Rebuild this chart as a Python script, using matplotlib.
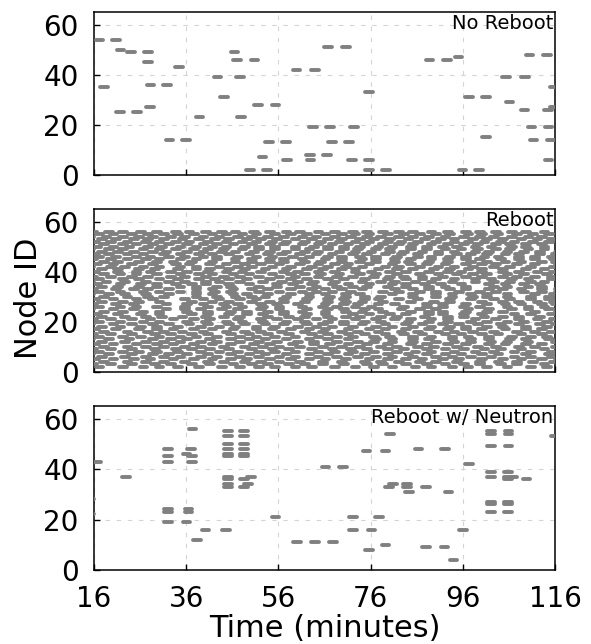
import numpy as np
import matplotlib
matplotlib.use("Agg")
import matplotlib.pyplot as plt

# ---------------- data ----------------
x_ticks = [16, 36, 56, 76, 96, 116]
y_ticks = [0, 20, 40, 60]
titles = ["No Reboot", "Reboot", "Reboot w/ Neutron"]
seg_len = 1.66  # minutes (data length of each segment, caps add the rest)

# Panel 1: No Reboot  (node, centre time in minutes)
noreboot_nodes = [54, 54, 50, 49, 49, 49, 45, 43, 35, 35, 36, 36, 25, 25, 27, 27,
                  14, 14, 14, 14, 39, 39, 39, 39, 31, 31, 31, 23, 23, 46, 46, 46, 46,
                  2, 2, 2, 2, 2, 2, 51, 51, 42, 42, 33, 28, 28, 19, 19, 19, 19, 19,
                  13, 13, 13, 13, 7, 6, 6, 6, 6, 6, 8, 8, 47, 48, 48, 29, 26, 26, 15]
noreboot_times = [17.2, 20.8, 21.75, 24.0, 27.7, 46.5, 27.7, 34.45, 18.2, 115.7, 28.25, 31.9,
                  21.7, 25.3, 28.2, 115.8, 32.35, 36.0, 111.3, 115.0, 42.8, 47.6, 105.4, 109.5,
                  44.15, 97.3, 101.05, 38.9, 47.95, 47.05, 50.8, 88.8, 92.6,
                  49.8, 53.55, 75.65, 79.3, 95.9, 99.55, 66.8, 70.7, 59.95, 64.0, 75.65,
                  51.6, 55.35, 63.5, 67.25, 72.45, 110.9, 114.6,
                  53.95, 57.7, 67.6, 71.35, 52.55, 57.85, 63.0, 72.0, 75.65, 114.6,
                  62.85, 66.6, 95.1, 110.5, 114.25, 106.1, 109.4, 114.5, 101.0]

# Panel 2: Reboot -- one string per node (56 down to 2).
# first char: offset of first segment from minute 14 (half-minutes, base 36)
# following chars: gap to next segment start (half-minutes, base 36)
reboot_nodes = list(range(56, 1, -1))
reboot_rows = [
    "1768786776877687867768786776876",
    "4687767867687787668777686787768",
    "0777686878677868776867787687687",
    "5686787768678776867877686787687",
    "2778676887676878768678867768776",
    "6867787678868767787687768677868",
    "3778687768679867786877687968776",
    "0869778678779687686978778687977",
    "5778697868778697786877968778697",
    "2687978679868779687798678697787",
    "4796878698797868799687869778698",
    "1878697987868a79687978698787697",
    "6698789a786979878698a787969878",
    "3789a69787898769a87897698a7879",
    "0968797a86989787a69878979a8697",
    "5797a8687999786a8797869a879787",
    "2a86979878a6979787a86997879a87",
    "6779a8697a8678979a887697a87978",
    "1897a6987897a8797689a796879878",
    "4a7989768a97979a87689797a86979",
    "0789a7969a8779c86979a879698797",
    "3a97876a9c78979a6879c787a98797",
    "5798a796c8a797698a79c696879a87",
    "1a869c7987a9679e8797a689797878",
    "49a79787c9a678e797a97c87967987",
    "0879ac7969a8796e9a7879c8796987",
    "6a97e98769a9787ea7969a87987979",
    "28a7e8797ca979698e9a7987a96987",
    "5979e97a869a879ca7e9787a968797",
    "1a8e9796a79c8697e7a9879697a987",
    "4979ca8797a9687ea797c979a86979",
    "0a9e8797a8c9796a87e9a7986a9798",
    "6897c9a7978a979c86a97ea7897987",
    "39a8e79879a8c797a698e797a97987",
    "5a979a87c97a8697ca79879a979a87",
    "1898a97ca7987a98797c9a87a97987",
    "49a7c8979a8a797c98a797a97c8797",
    "0a897989798a798a97978a8979a987",
    "58979a8798a879a7988797a9879878",
    "29a87989a7887a979a887a97989797",
    "6a9789a879a8879a79789a87a97987",
    "189a797a889a797988a797a9879878",
    "4a88979a789a8797a8979a8797c978",
    "089a87a9879a89c797a8897a979787",
    "5a98797a8897a9789a87979ca97987",
    "28a97988a7a97889a798a7979a9787",
    "6a8897a9879a889797a98a797a9787",
    "189a9788a97a98797a88979a97c987",
    "4a789a88979a789a87a98979a79787",
    "08a9789a879a897a988797ca979787",
    "5a98797a897a89879a789a79797c87",
    "2897a9887a9879a88797a989797987",
    "6a889a79789a8a78979a88797a9797",
    "189a798a879789a7a988797ca97987",
    "4a9789a88797a988a79789a7979787",
]

# Panel 3: Reboot w/ Neutron  (node, centre time in minutes)
neutron_nodes = [43, 28, 22, 37, 56,
                 48, 45, 43, 48, 46, 45, 43,
                 55, 53, 50, 48, 46, 45, 37, 36, 34, 33,
                 55, 53, 50, 48, 46, 45, 36, 33, 37, 34,
                 24, 23, 24, 23, 19, 19, 16, 16, 12,
                 21, 11, 11, 11, 41, 41, 21, 21, 16, 16, 8, 10, 47, 47, 54,
                 34, 33, 34, 33, 31, 33, 31, 48, 48, 42,
                 55, 54, 55, 54, 53, 49, 49,
                 39, 37, 39, 37, 36, 37, 36,
                 27, 26, 27, 26, 23, 23,
                 16, 9, 9, 4]
neutron_times = [16.65, 15.15, 15.15, 23.0, 37.4,
                 32.1, 32.0, 32.0, 37.1, 36.1, 37.3, 37.3,
                 45.0, 45.0, 45.0, 45.0, 45.0, 45.0, 45.0, 45.0, 45.0, 45.0,
                 48.6, 48.6, 48.6, 48.6, 48.6, 48.6, 48.6, 48.6, 50.0, 49.4,
                 32.1, 32.1, 36.5, 36.5, 32.0, 36.1, 40.2, 44.6, 38.4,
                 55.4, 60.0, 64.0, 67.9, 66.2, 70.0, 72.2, 77.8, 72.2, 76.2, 75.7, 79.2,
                 75.1, 79.2, 80.2,
                 80.8, 80.0, 83.9, 83.9, 84.3, 88.0, 92.9, 86.4, 92.1, 97.4,
                 102.1, 102.1, 105.9, 105.9, 116.0, 102.1, 105.9,
                 102.1, 102.1, 105.8, 105.8, 105.8, 107.0, 109.8,
                 102.1, 102.1, 105.8, 105.8, 102.1, 105.8,
                 96.0, 88.0, 92.0, 94.0]

# decode panel 2 rows
reboot_seg_nodes = []
reboot_seg_times = []
for node, row in zip(reboot_nodes, reboot_rows):
    t = 14.0 + int(row[0], 36) * 0.5
    reboot_seg_nodes.append(node)
    reboot_seg_times.append(t + seg_len / 2 + 0.4)
    for c in row[1:]:
        t += int(c, 36) * 0.5
        if t > 117.5:
            break
        reboot_seg_nodes.append(node)
        reboot_seg_times.append(t + seg_len / 2 + 0.4)

panels = [
    (noreboot_nodes, noreboot_times),
    (reboot_seg_nodes, reboot_seg_times),
    (neutron_nodes, neutron_times),
]

# ---------------- figure ----------------
plt.rcParams['font.family'] = ['DejaVu Sans']
W, H = 591, 644
fig = plt.figure(figsize=(W / 100, H / 100), dpi=100)

left = 94 / W
width = (555 - 94) / W
tops = [12, 209, 406]
bottoms = [175, 372, 570]

axes = []
for i, (nodes, times) in enumerate(panels):
    ax = fig.add_axes([left, 1 - bottoms[i] / H, width, (bottoms[i] - tops[i]) / H])
    axes.append(ax)
    nodes = np.asarray(nodes, dtype=float)
    times = np.asarray(times, dtype=float)
    ax.hlines(nodes, times - seg_len / 2, times + seg_len / 2,
              colors='#808080', linewidths=2.8, capstyle='round', zorder=3)
    ax.set_xlim(16, 116)
    ax.set_ylim(0, 65)
    ax.set_xticks(x_ticks)
    ax.set_yticks(y_ticks)
    ax.grid(True, color='#d4d4d4', linestyle=(0, (4, 6)), linewidth=0.8, zorder=0)
    ax.set_axisbelow(True)
    ax.tick_params(direction='in', length=4, width=1, labelsize=20, top=False, right=False)
    ax.tick_params(axis='y', pad=11)
    ax.tick_params(axis='x', pad=11)
    for sp in ax.spines.values():
        sp.set_linewidth(1.1)
    if i < 2:
        ax.set_xticklabels([])
    ax.text(0.997, 0.985, titles[i], transform=ax.transAxes, ha='right', va='top',
            fontsize=14, zorder=5)

fig.text(29 / W, 1 - 298 / H, 'Node ID', rotation=90, ha='center', va='center', fontsize=22)
fig.text(325 / W, 1 - 637 / H, 'Time (minutes)', ha='center', va='baseline', fontsize=22)

fig.savefig('out.png', dpi=100)
